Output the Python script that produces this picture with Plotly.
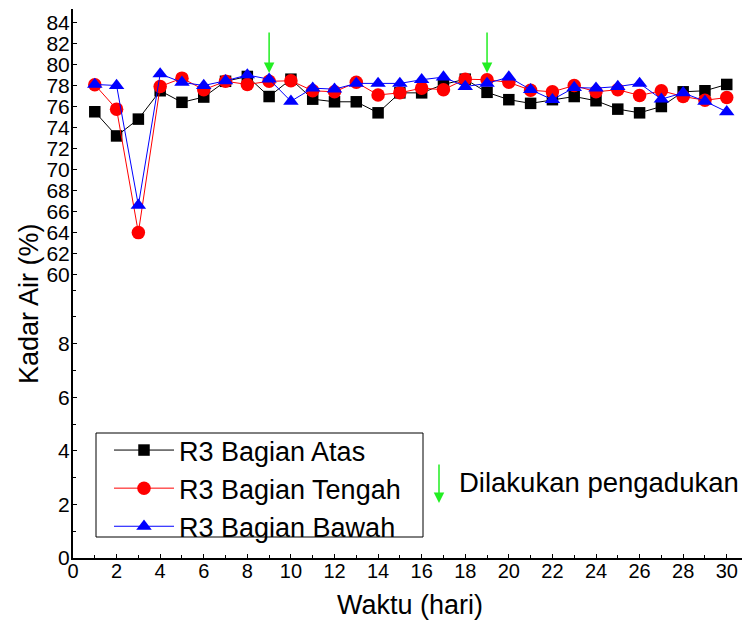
import plotly.graph_objects as go

days = list(range(1, 31))
atas = [75.5, 73.2, 74.8, 77.5, 76.4, 76.9, 78.4, 78.86, 76.95, 78.6,
        76.7, 76.45, 76.45, 75.4, 77.3, 77.3, 78.1, 78.6, 77.35, 76.65,
        76.3, 76.65, 76.95, 76.55, 75.75, 75.4, 76.0, 77.4, 77.5, 78.1]
tengah = [78.07, 75.75, 64.0, 77.9, 78.7, 77.6, 78.4, 78.1, 78.4, 78.45,
          77.5, 77.4, 78.3, 77.1, 77.3, 77.75, 77.6, 78.6, 78.55, 78.3,
          77.55, 77.4, 78.0, 77.4, 77.6, 77.05, 77.5, 76.95, 76.6, 76.85]
bawah = [78.1, 78.0, 66.6, 79.1, 78.3, 78.0, 78.45, 79.0, 78.6, 76.5,
         77.75, 77.65, 78.2, 78.2, 78.2, 78.55, 78.8, 77.9, 78.2, 78.8,
         77.6, 76.65, 77.8, 77.75, 77.9, 78.2, 76.7, 77.3, 76.5, 75.5]
names = ["R3 Bagian Atas", "R3 Bagian Tengah", "R3 Bagian Bawah"]
arrow_days = [9, 19]
arrow_tip = 79.18
upper_ticks = list(range(60, 85, 2))
lower_ticks = [0, 2, 4, 6, 8]
x_ticks = list(range(0, 31, 2))

FONT = "Liberation Sans, Arial, sans-serif"
L, PW, T, PH = 73, 669, 9, 549


def px(xp):
    return (xp - L) / PW


def py(yp):
    return (T + PH - yp) / PH


fig = go.Figure()
# empty trace so the lower (broken) y axis segment is drawn
fig.add_trace(go.Scatter(x=[None], y=[None], xaxis="x", yaxis="y",
                         showlegend=False, hoverinfo="skip"))
styles = [("black", "square", 11.5), ("red", "circle", 13.5), ("blue", "triangle-up", 13.5)]
for vals, name, (col, sym, sz) in zip([atas, tengah, bawah], names, styles):
    fig.add_trace(go.Scatter(x=days, y=vals, name=name, mode="lines+markers",
                             xaxis="x", yaxis="y2",
                             line=dict(color=col, width=1),
                             marker=dict(color=col, symbol=sym, size=sz, line=dict(width=0))))

split = 276 / PH
axis_common = dict(showline=True, linecolor="black", linewidth=2, ticks="inside",
                   tickcolor="black", ticklen=4, showgrid=False, zeroline=False,
                   ticklabelstandoff=-3,
                   tickfont=dict(family=FONT, size=21, color="black"))

fig.update_layout(
    width=742, height=620,
    margin=dict(l=L, r=0, t=T, b=620 - T - PH),
    paper_bgcolor="white", plot_bgcolor="white",
    xaxis=dict(range=[0, 30.7], tickvals=x_ticks, anchor="y", domain=[0, 1],
               showline=True, linecolor="black", linewidth=2, ticks="inside",
               ticklen=4, tickcolor="black", showgrid=False, zeroline=False,
               ticklabelstandoff=-6,
               minor=dict(dtick=1, ticks="inside", ticklen=3, tickcolor="black"),
               tickfont=dict(family=FONT, size=20, color="black")),
    xaxis2=dict(range=[0, 30.7], overlaying="x", anchor="y2", side="top",
                showticklabels=False, showline=True, linecolor="black", linewidth=2,
                ticks="inside", ticklen=4, tickvals=x_ticks, showgrid=False, zeroline=False,
                minor=dict(dtick=1, ticks="inside", ticklen=3, tickcolor="black")),
    yaxis=dict(range=[0, 10.3], domain=[0, split], tickvals=lower_ticks, anchor="x",
               minor=dict(dtick=1, ticks="inside", ticklen=3, tickcolor="black"),
               **axis_common),
    yaxis2=dict(range=[59.3, 85.28], domain=[split, 1], tickvals=upper_ticks, anchor="x",
                **axis_common),
    showlegend=True,
    legend=dict(x=px(109), y=py(426), xanchor="left", yanchor="top",
                bgcolor="rgba(0,0,0,0)", borderwidth=0, itemwidth=60,
                font=dict(family=FONT, size=27, color="black"), tracegroupgap=0),
    shapes=[dict(type="rect", xref="paper", yref="paper",
                 x0=px(96), x1=px(423), y0=py(537), y1=py(433),
                 line=dict(color="black", width=1), fillcolor="white", layer="below")],
)

GREEN = "#22ee22"
annotations = []
for d in arrow_days:
    annotations.append(dict(x=d, y=arrow_tip, xref="x", yref="y2", text="", showarrow=True,
                            ax=0, ay=-42, arrowhead=2, arrowsize=1.4, arrowwidth=1.5,
                            arrowcolor=GREEN, standoff=0))
annotations.append(dict(x=px(439), y=py(503), xref="paper", yref="paper",
                        text="", showarrow=True, ax=0, ay=-40, arrowhead=2, arrowsize=1.4,
                        arrowwidth=1.5, arrowcolor=GREEN, standoff=0))
annotations.append(dict(x=px(457), y=py(482), xref="paper", yref="paper",
                        text="Dilakukan pengadukan", showarrow=False, xanchor="left",
                        yanchor="middle", font=dict(family=FONT, size=27.5, color="black")))
annotations.append(dict(x=px(29), y=py(304), xref="paper", yref="paper",
                        text="Kadar Air (%)", showarrow=False, textangle=-90,
                        xanchor="center", yanchor="middle",
                        font=dict(family=FONT, size=27, color="black")))
annotations.append(dict(x=px(410), y=py(605), xref="paper", yref="paper",
                        text="Waktu (hari)", showarrow=False, xanchor="center",
                        yanchor="middle", font=dict(family=FONT, size=27, color="black")))
fig.update_layout(annotations=annotations)

fig.write_html("out.html")
